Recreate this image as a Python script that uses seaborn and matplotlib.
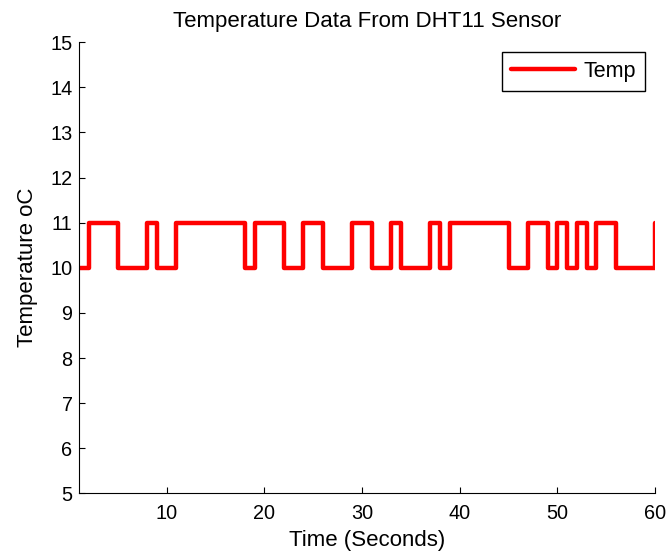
import matplotlib
matplotlib.use("Agg")
import matplotlib.pyplot as plt
import seaborn as sns
import pandas as pd
import numpy as np

time_s = list(range(1, 61))
temp_c = [10, 11, 11, 11, 10, 10, 10, 11, 10, 10,
          11, 11, 11, 11, 11, 11, 11, 10, 11, 11,
          11, 10, 10, 11, 11, 10, 10, 10, 11, 11,
          10, 10, 11, 10, 10, 10, 11, 10, 11, 11,
          11, 11, 11, 11, 10, 10, 11, 11, 10, 11,
          10, 11, 10, 11, 11, 10, 10, 10, 10, 11]
y_ticks = list(range(5, 16))
x_ticks = [10, 20, 30, 40, 50, 60]

df = pd.DataFrame({"Time": time_s, "Temp": temp_c})

sns.set_theme(style="ticks")
plt.rcParams['font.family'] = ['Liberation Sans', 'DejaVu Sans']
plt.rcParams['text.color'] = 'black'
plt.rcParams['axes.labelcolor'] = 'black'

fig = plt.figure(figsize=(6.69, 5.52), dpi=100)
left, right = 78.8 / 669, 655 / 669
bottom, top = 1 - 493.3 / 552, 1 - 42.3 / 552
ax = fig.add_axes([left, bottom, right - left, top - bottom])

sns.lineplot(data=df, x="Time", y="Temp", ax=ax, color="#ff0000",
             linewidth=3.2, drawstyle="steps-post", label="Temp")

ax.set_xlim(1, 60)
ax.set_ylim(5, 15)
ax.set_xticks(x_ticks)
ax.set_yticks(y_ticks)
ax.tick_params(direction="in", length=4, width=0.8, labelsize=14.3,
               colors="black", labelcolor="black")
ax.tick_params(axis="x", pad=7.5)
ax.tick_params(axis="y", pad=4.5)
for s in ["top", "right"]:
    ax.spines[s].set_visible(False)
for s in ["left", "bottom"]:
    ax.spines[s].set_color("black")
    ax.spines[s].set_linewidth(0.8)

ax.set_title("Temperature Data From DHT11 Sensor", fontsize=16, pad=11, color="black")
ax.set_xlabel("Time (Seconds)", fontsize=16, labelpad=5, color="black")
ax.set_ylabel("Temperature oC", fontsize=16, labelpad=9, color="black")

leg = ax.legend(loc="upper right", fontsize=15.5, frameon=True, fancybox=False,
                handlelength=3.0, borderaxespad=0.45, handletextpad=0.4,
                borderpad=0.42)
leg.get_frame().set_edgecolor("black")
leg.get_frame().set_linewidth(1.0)
leg.get_frame().set_alpha(1)
for t in leg.get_texts():
    t.set_color("black")

fig.savefig("out.png", dpi=100)
